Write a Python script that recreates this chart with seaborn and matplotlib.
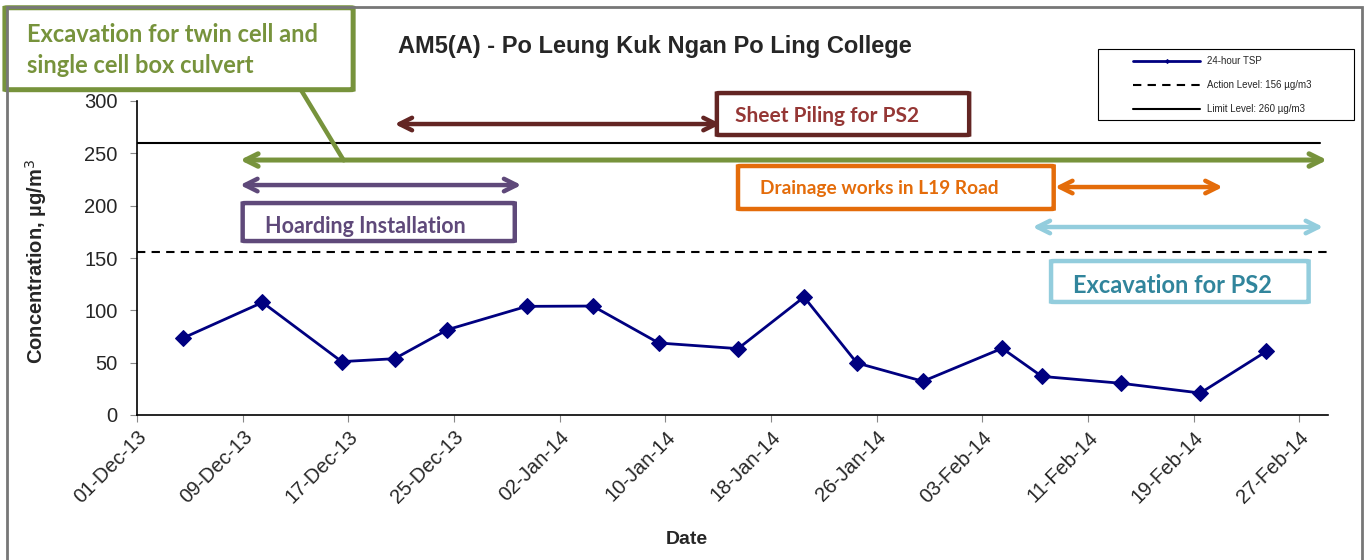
import pandas as pd
import numpy as np
import matplotlib
matplotlib.use("Agg")
import matplotlib.pyplot as plt
import matplotlib.dates as mdates
import matplotlib.transforms as mtrans
from matplotlib.patches import FancyBboxPatch, Rectangle
import seaborn as sns

# 24-hour TSP readings (sampling days, plotted at mid-day)
dates = ["2013-12-04", "2013-12-10", "2013-12-16", "2013-12-20", "2013-12-24",
         "2013-12-30", "2014-01-04", "2014-01-09", "2014-01-15", "2014-01-20",
         "2014-01-24", "2014-01-29", "2014-02-04", "2014-02-07", "2014-02-13",
         "2014-02-19", "2014-02-24"]
tsp = [73.6, 107.6, 51.0, 53.8, 81.5, 103.8, 104.1, 68.8, 63.4, 112.7,
       49.7, 32.2, 63.7, 36.9, 30.3, 21.0, 60.8]
action_level = 156
limit_level = 260

df = pd.DataFrame({"date": pd.to_datetime(dates) + pd.Timedelta(hours=12), "tsp": tsp})

sns.set_style("ticks")
plt.rcParams["font.family"] = ["Liberation Sans", "DejaVu Sans"]

fig = plt.figure(figsize=(13.71, 5.6), dpi=100)
W, H = 1371, 560
ax = fig.add_axes([137 / W, 1 - 415 / H, (1328 - 137) / W, (415 - 101) / H])

sns.lineplot(data=df, x="date", y="tsp", ax=ax, color="#000080", marker="D",
             markersize=8, markeredgecolor="#000080", linewidth=2, label="24-hour TSP")
ax.axhline(action_level, color="black", ls=(0, (4, 3)), lw=1.5, label="Action Level: 156 µg/m3")
ax.axhline(limit_level, color="black", lw=1.5, label="Limit Level: 260 µg/m3",
           xmax=(1320 - 137) / (1328 - 137))

x0 = pd.Timestamp("2013-12-01")
ax.set_xlim(x0, pd.Timestamp("2014-03-01 04:00"))
ax.set_ylim(0, 300)
ax.set_yticks(range(0, 301, 50))
ticks = pd.date_range("2013-12-01", "2014-02-27", freq="8D")
ax.set_xticks(ticks)
ax.xaxis.set_major_formatter(mdates.DateFormatter("%d-%b-%y"))
shift = mtrans.ScaledTranslation(9 / 100, 0, fig.dpi_scale_trans)
for lab in ax.get_xticklabels():
    lab.set_rotation(45)
    lab.set_ha("right")
    lab.set_rotation_mode("anchor")
    lab.set_transform(lab.get_transform() + shift)
ax.tick_params(axis="x", labelsize=14.5, length=5, color="#888888", pad=4)
ax.tick_params(axis="y", labelsize=14.5, length=5, color="#888888", pad=9)
sns.despine(ax=ax)
for s in ["left", "bottom"]:
    ax.spines[s].set_color("black")
    ax.spines[s].set_linewidth(1.2)

ax.set_xlabel("Date", fontsize=14, fontweight="bold", va="center")
ax.xaxis.set_label_coords((687 - 137) / 1191, -(539 - 415) / 314)
ax.set_ylabel("Concentration, µg/m$^3$", fontsize=14.5, fontweight="bold", va="center")
ax.yaxis.set_label_coords((36 - 137) / 1191, (415 - 262) / 314)

fig.text(655 / W, 1 - 47 / H, "AM5(A) - Po Leung Kuk Ngan Po Ling College",
         ha="center", va="center", fontsize=17, fontweight="bold")

# legend: frame drawn separately, entries placed inside it
h, l = ax.get_legend_handles_labels()
leg = ax.legend(h, l, loc="upper left", bbox_to_anchor=(1133 / W, 1 - 56 / H),
                bbox_transform=fig.transFigure, fontsize=7, frameon=False,
                handlelength=6.9, labelspacing=1.45, markerscale=0.25, borderpad=0,
                borderaxespad=0, handletextpad=0.7)
fig.patches.append(Rectangle((1098 / W, 1 - 120 / H), 256 / W, 71 / H, transform=fig.transFigure,
                             fill=False, edgecolor="black", lw=0.8))

# outer chart frame
fig.patches.append(Rectangle((7 / W, -0.05), (1362 - 7) / W, 1.05 - 7 / H, transform=fig.transFigure,
                             fill=False, edgecolor="#777777", lw=2))

def d(days):
    return x0 + pd.Timedelta(days=days)

def px(p):
    return (p - 137) / 13.2

def arrow(a, b, y, color, lw):
    ax.annotate("", xy=(d(b), y), xytext=(d(a), y), annotation_clip=False,
                arrowprops=dict(arrowstyle="<->,head_length=0.9,head_width=0.45",
                                color=color, lw=lw, shrinkA=0, shrinkB=0,
                                capstyle="round", joinstyle="round"))

def box(a, b, y1, y2, color, lw):
    p = FancyBboxPatch((mdates.date2num(d(a)), y1), mdates.date2num(d(b)) - mdates.date2num(d(a)),
                       y2 - y1, boxstyle="round,pad=0,rounding_size=0.3", transform=ax.transData,
                       facecolor="white", edgecolor=color, lw=lw, clip_on=False, zorder=5)
    ax.add_patch(p)

cfont = ["Lato", "DejaVu Sans"]

# Excavation for twin cell ... (green)
green = "#77933C"
arrow(7.8, 90.1, 243.6, green, 3.6)
ax.annotate("", xy=(d(px(345)), 241), xytext=(d(px(300)), 312),
            annotation_clip=False, arrowprops=dict(arrowstyle="-", color=green, lw=3.2))
box(px(5), px(353), 310.8, 389.1, green, 3.6)
ax.text(d(px(27)), 348.7, "Excavation for twin cell and\nsingle cell box culvert",
        color=green, fontsize=17, fontweight="bold", family=cfont, va="center", ha="left",
        linespacing=1.4, zorder=6, clip_on=False)

# Hoarding (purple)
purple = "#5F497A"
arrow(7.8, 29.1, 219.7, purple, 3.2)
box(8.0, 28.6, 166.2, 202.5, purple, 3.2)
ax.text(d(px(265)), 180.5, "Hoarding Installation", color=purple, fontsize=15.5,
        fontweight="bold", family=cfont, va="center", zorder=6)

# Sheet piling (dark red)
dred = "#632523"
arrow(19.5, 44.2, 278, dred, 3.2)
box(43.9, 63.0, 267.5, 307.6, dred, 3.2)
ax.text(d(px(735)), 285.5, "Sheet Piling for PS2", color="#953735", fontsize=15,
        fontweight="bold", family=cfont, va="center", zorder=6, clip_on=False)

# Drainage (orange)
orange = "#E46C0A"
arrow(69.5, 82.2, 217.8, orange, 3.2)
box(45.5, 69.4, 196.8, 237.9, orange, 3.2)
ax.text(d(px(760)), 216, "Drainage works in L19 Road", color=orange, fontsize=13.8,
        fontweight="bold", family=cfont, va="center", zorder=6)

# Excavation for PS2 (light blue)
lblue = "#93CDDD"
arrow(67.8, 89.8, 179.6, lblue, 3.2)
box(69.2, 88.7, 108.0, 147.1, lblue, 3.2)
ax.text(d(px(1072)), 124.2, "Excavation for PS2", color="#31859C", fontsize=17,
        fontweight="bold", family=cfont, va="center", zorder=6)

fig.savefig("out.png", dpi=100)
